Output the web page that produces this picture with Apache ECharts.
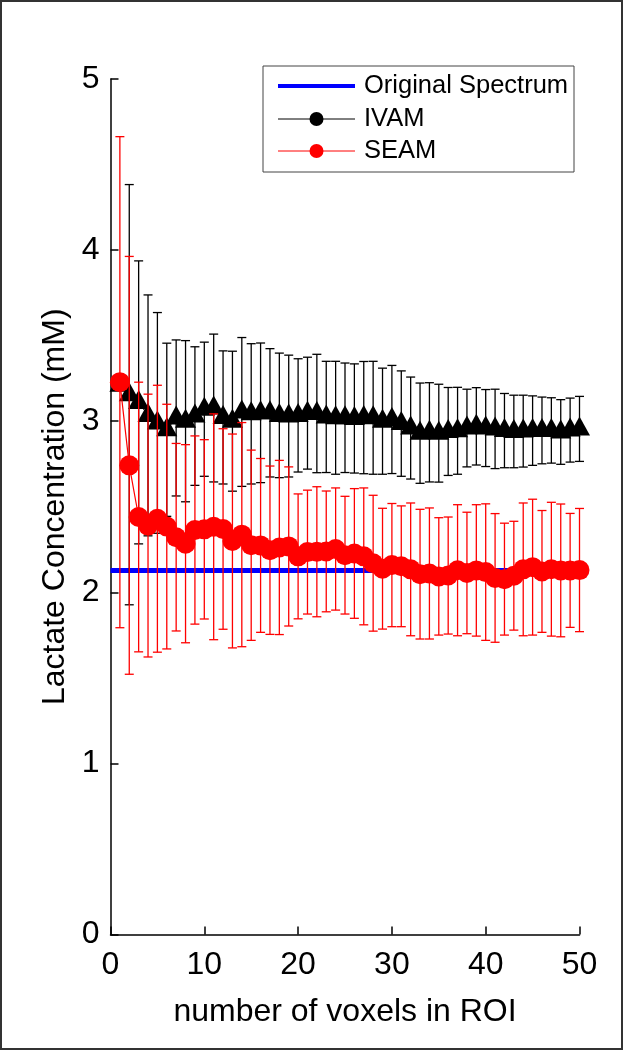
<!DOCTYPE html>
<html><head><meta charset="utf-8">
<script src="https://cdn.jsdelivr.net/npm/echarts@6/dist/echarts.min.js"></script>
<style>html,body{margin:0;padding:0;background:#fff}#c{width:623px;height:1050px}</style>
</head><body><div id="c"></div>
<script>
// ---- data ----
const voxels = [1,2,3,4,5,6,7,8,9,10,11,12,13,14,15,16,17,18,19,20,21,22,23,24,25,26,27,28,29,30,31,32,33,34,35,36,37,38,39,40,41,42,43,44,45,46,47,48,49,50];
const originalX = [0, 50];
const originalY = [2.128, 2.128];
const ivamMean = [3.21,3.155,3.11,3.034,2.99,2.95,3.019,3.0,3.03,3.07,3.077,3.022,3.0,3.054,3.043,3.049,3.049,3.034,3.03,3.034,3.047,3.045,3.025,3.02,3.02,3.016,3.021,3.02,3.0,3.01,2.986,2.96,2.93,2.935,2.93,2.94,2.944,2.96,2.97,2.96,2.955,2.945,2.94,2.942,2.945,2.946,2.946,2.937,2.948,2.955];
const ivamSD = [0,1.228,0.827,0.704,0.645,0.506,0.456,0.471,0.405,0.392,0.432,0.389,0.409,0.435,0.41,0.408,0.375,0.364,0.356,0.331,0.327,0.346,0.325,0.33,0.32,0.319,0.328,0.33,0.31,0.316,0.308,0.298,0.293,0.29,0.286,0.257,0.254,0.227,0.226,0.225,0.232,0.217,0.212,0.21,0.203,0.195,0.191,0.189,0.187,0.19];
const seamMean = [3.228,2.742,2.44,2.39,2.43,2.384,2.322,2.284,2.364,2.368,2.383,2.37,2.30,2.337,2.275,2.274,2.246,2.262,2.268,2.21,2.235,2.237,2.239,2.253,2.217,2.227,2.21,2.17,2.138,2.159,2.152,2.134,2.106,2.11,2.093,2.098,2.129,2.113,2.128,2.118,2.084,2.077,2.097,2.134,2.147,2.122,2.135,2.128,2.128,2.13];
const seamSD = [1.435,1.221,0.788,0.768,0.78,0.715,0.548,0.579,0.55,0.524,0.66,0.586,0.625,0.655,0.556,0.508,0.492,0.509,0.465,0.365,0.362,0.38,0.353,0.357,0.344,0.379,0.40,0.397,0.353,0.36,0.353,0.388,0.379,0.383,0.343,0.342,0.383,0.355,0.384,0.399,0.376,0.327,0.318,0.388,0.397,0.356,0.391,0.388,0.333,0.36];
const xTicks = [0,10,20,30,40,50];
const yTicks = [0,1,2,3,4,5];
const legendNames = ['Original Spectrum','IVAM','SEAM'];
const xTitle = 'number of voxels in ROI';
const yTitle = 'Lactate Concentration (mM)';

// ---- build ----
const FONT = '"Liberation Sans", Arial, Helvetica, sans-serif';
const ivamLine = voxels.map((v,i)=>[v, ivamMean[i]]);
const seamLine = voxels.map((v,i)=>[v, seamMean[i]]);
const ivamErr = voxels.map((v,i)=>[v, ivamMean[i]-ivamSD[i], ivamMean[i]+ivamSD[i]]);
const seamErr = voxels.map((v,i)=>[v, seamMean[i]-seamSD[i], seamMean[i]+seamSD[i]]);
const origLine = originalX.map((v,i)=>[v, originalY[i]]);

function errRender(color){
  return function(params, api){
    const x = api.value(0), lo = api.value(1), hi = api.value(2);
    if (hi - lo <= 0) return null;
    const a = api.coord([x, lo]), b = api.coord([x, hi]);
    const w = 4.5;
    const st = {stroke: color, lineWidth: 1.3, fill: null};
    return {type:'group', children:[
      {type:'line', shape:{x1:a[0],y1:a[1],x2:b[0],y2:b[1]}, style:st},
      {type:'line', shape:{x1:b[0]-w,y1:b[1],x2:b[0]+w,y2:b[1]}, style:st},
      {type:'line', shape:{x1:a[0]-w,y1:a[1],x2:a[0]+w,y2:a[1]}, style:st}
    ]};
  };
}

const chart = echarts.init(document.getElementById('c'), null, {renderer:'canvas'});
const legX = 263, legY = 66, legW = 311, legH = 106;
const rows = [86, 119, 151];
chart.setOption({
  animation: false,
  backgroundColor: '#fff',
  textStyle: {fontFamily: FONT},
  grid: {left: 110.5, right: 43.5, top: 79, bottom: 115.5, containLabel: false},
  xAxis: {
    type: 'value', min: xTicks[0], max: xTicks[xTicks.length-1], interval: 10,
    name: xTitle, nameLocation: 'middle', nameGap: 62,
    nameTextStyle: {fontSize: 32, color: '#000', fontFamily: FONT},
    axisLine: {lineStyle: {color: '#000', width: 1.5}},
    axisTick: {inside: true, length: 8, lineStyle: {color: '#000', width: 1.5}},
    axisLabel: {fontSize: 32, color: '#000', margin: 15, fontFamily: FONT},
    splitLine: {show: false}
  },
  yAxis: {
    type: 'value', min: yTicks[0], max: yTicks[yTicks.length-1], interval: 1,
    name: yTitle, nameLocation: 'middle', nameGap: 39, nameRotate: 90,
    nameTextStyle: {fontSize: 32, color: '#000', fontFamily: FONT},
    axisLine: {lineStyle: {color: '#000', width: 1.5}},
    axisTick: {inside: true, length: 8, lineStyle: {color: '#000', width: 1.5}},
    axisLabel: {fontSize: 32, color: '#000', margin: 11, fontFamily: FONT},
    splitLine: {show: false}
  },
  series: [
    {type:'line', name: legendNames[0], data: origLine, symbol:'none', lineStyle:{color:'#0000ff', width:5}, clip:false, z:1},
    {type:'custom', name: legendNames[1]+' err', data: ivamErr, renderItem: errRender('#000'), encode:{x:0, y:[1,2]}, clip:false, z:2},
    {type:'line', name: legendNames[1], data: ivamLine, symbol:'triangle', symbolSize:[21,19], symbolOffset:[0,-3], showSymbol:true,
      itemStyle:{color:'#000'}, lineStyle:{color:'#000', width:1}, clip:false, z:3},
    {type:'custom', name: legendNames[2]+' err', data: seamErr, renderItem: errRender('#ff0000'), encode:{x:0, y:[1,2]}, clip:false, z:4},
    {type:'line', name: legendNames[2], data: seamLine, symbol:'circle', symbolSize:20, showSymbol:true,
      itemStyle:{color:'#ff0000'}, lineStyle:{color:'#ff0000', width:1.2}, clip:false, z:5}
  ],
  graphic: [
    {type:'rect', shape:{x:1, y:1, width:621, height:1048}, style:{fill:null, stroke:'#333', lineWidth:2}, z:100},
    {type:'rect', shape:{x:legX, y:legY, width:legW, height:legH}, style:{fill:'#fff', stroke:'#444', lineWidth:1}, z:100},
    {type:'line', shape:{x1:278, y1:rows[0], x2:355, y2:rows[0]}, style:{stroke:'#0000ff', lineWidth:4}, z:101},
    {type:'line', shape:{x1:278, y1:rows[1], x2:355, y2:rows[1]}, style:{stroke:'#000', lineWidth:1}, z:101},
    {type:'circle', shape:{cx:316.5, cy:rows[1], r:7}, style:{fill:'#000'}, z:102},
    {type:'line', shape:{x1:278, y1:rows[2], x2:355, y2:rows[2]}, style:{stroke:'#ff0000', lineWidth:1}, z:101},
    {type:'circle', shape:{cx:316.5, cy:rows[2], r:7}, style:{fill:'#ff0000'}, z:102},
    {type:'text', style:{text:legendNames[0], x:364, y:rows[0], verticalAlign:'middle', fontSize:25.5, fontFamily:FONT, fill:'#000'}, z:102},
    {type:'text', style:{text:legendNames[1], x:364, y:rows[1], verticalAlign:'middle', fontSize:25.5, fontFamily:FONT, fill:'#000'}, z:102},
    {type:'text', style:{text:legendNames[2], x:364, y:rows[2], verticalAlign:'middle', fontSize:25.5, fontFamily:FONT, fill:'#000'}, z:102}
  ]
});
</script></body></html>
